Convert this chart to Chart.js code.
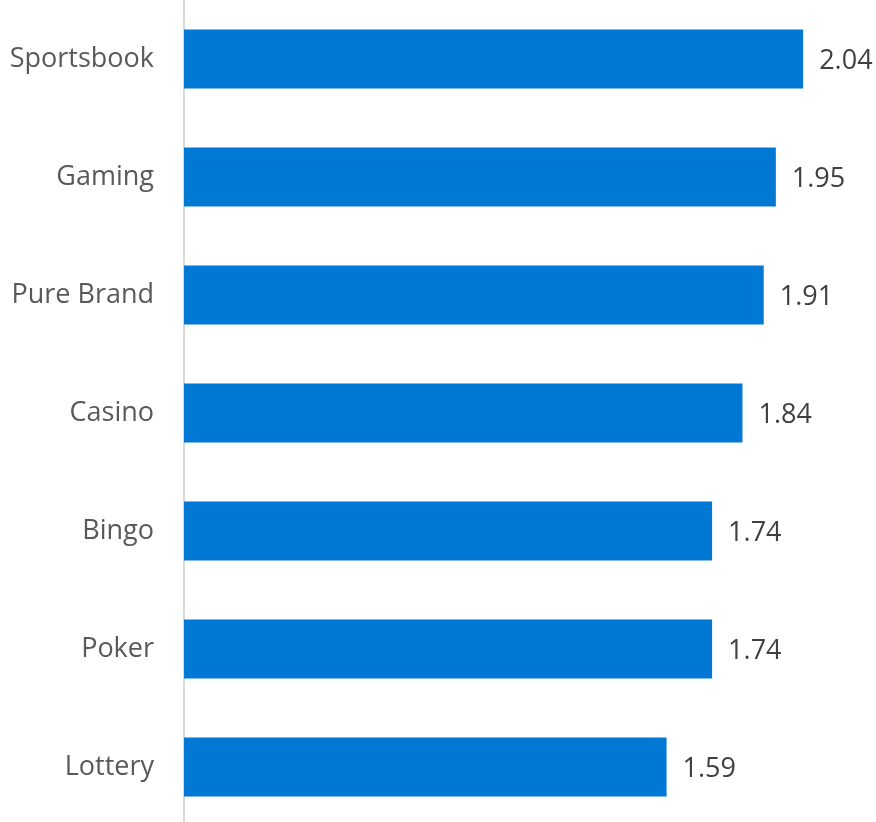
<!DOCTYPE html>
<html>
<head>
<meta charset="utf-8">
<script src="https://cdn.jsdelivr.net/npm/chart.js@4"></script>
<style>
  html, body { margin: 0; padding: 0; background: #fff; overflow: hidden; }
  #wrap { position: relative; width: 876px; height: 826px; }
</style>
</head>
<body>
<div id="wrap"><canvas id="chart"></canvas></div>
<script>
const categories = ['Sportsbook', 'Gaming', 'Pure Brand', 'Casino', 'Bingo', 'Poker', 'Lottery'];
const scores = [2.04, 1.95, 1.91, 1.84, 1.74, 1.74, 1.59];

const FONT = '"Open Sans", "Noto Sans", sans-serif';

// writes each value just past the end of its bar
const valueLabels = {
    id: 'valueLabels',
    afterDatasetsDraw(chart) {
        const ctx = chart.ctx;
        const meta = chart.getDatasetMeta(0);
        ctx.save();
        ctx.font = '27px ' + FONT;
        ctx.fillStyle = '#404040';
        ctx.textAlign = 'left';
        ctx.textBaseline = 'middle';
        meta.data.forEach((bar, i) => {
            ctx.fillText(scores[i].toFixed(2), bar.x + 16, bar.y + 2);
        });
        ctx.restore();
    }
};

new Chart(document.getElementById('chart'), {
    type: 'bar',
    data: {
        labels: categories,
        datasets: [{
            data: scores,
            backgroundColor: '#0078d4',
            borderWidth: 0,
            categoryPercentage: 1,
            barPercentage: 0.5
        }]
    },
    options: {
        indexAxis: 'y',
        responsive: true,
        maintainAspectRatio: false,
        animation: false,
        layout: { padding: 0 },
        plugins: {
            legend: { display: false },
            tooltip: { enabled: false }
        },
        scales: {
            x: {
                display: false,
                min: 0,
                max: 2.28
            },
            y: {
                afterFit(scale) {
                    scale.width = 184;
                    scale.paddingTop = 0;
                    scale.paddingBottom = 0;
                },
                grid: { display: false, drawTicks: false },
                border: { display: true, color: '#d9d9d9', width: 2 },
                ticks: {
                    padding: 30,
                    color: '#595959',
                    font: { family: FONT, size: 27 }
                }
            }
        }
    },
    plugins: [valueLabels]
});
</script>
</body>
</html>
